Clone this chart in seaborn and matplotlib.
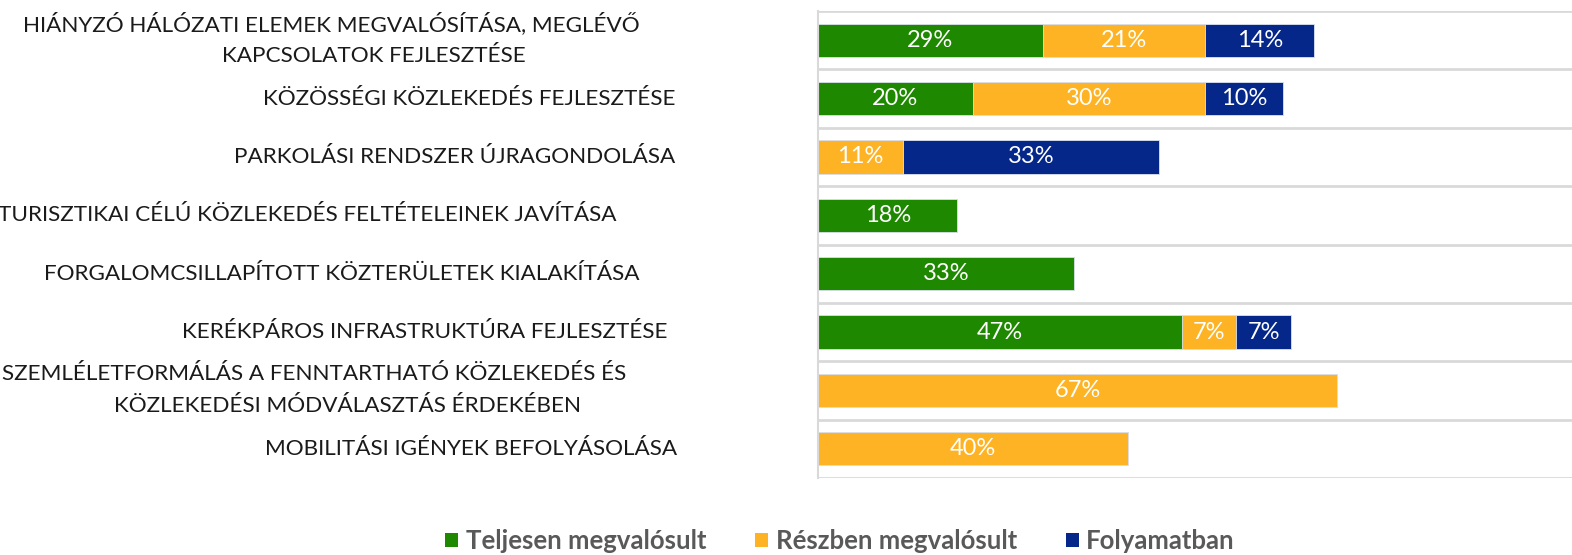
import matplotlib
matplotlib.use("Agg")
import matplotlib.pyplot as plt
import matplotlib.transforms as mtransforms
from matplotlib.patches import Patch
import numpy as np
import pandas as pd
import seaborn as sns

# ---- data ----
categories = [
    "HIÁNYZÓ HÁLÓZATI ELEMEK MEGVALÓSÍTÁSA, MEGLÉVŐ\nKAPCSOLATOK FEJLESZTÉSE",
    "KÖZÖSSÉGI KÖZLEKEDÉS FEJLESZTÉSE",
    "PARKOLÁSI RENDSZER ÚJRAGONDOLÁSA",
    "TURISZTIKAI CÉLÚ KÖZLEKEDÉS FELTÉTELEINEK JAVÍTÁSA",
    "FORGALOMCSILLAPÍTOTT KÖZTERÜLETEK KIALAKÍTÁSA",
    "KERÉKPÁROS INFRASTRUKTÚRA FEJLESZTÉSE",
    "SZEMLÉLETFORMÁLÁS A FENNTARTHATÓ KÖZLEKEDÉS ÉS\nKÖZLEKEDÉSI MÓDVÁLASZTÁS ÉRDEKÉBEN",
    "MOBILITÁSI IGÉNYEK BEFOLYÁSOLÁSA",
]
teljesen = [29, 20, 0, 18, 33, 47, 0, 0]
reszben = [21, 30, 11, 0, 0, 7, 67, 40]
folyamatban = [14, 10, 33, 0, 0, 7, 0, 0]
series_names = ["Teljesen megvalósult", "Részben megvalósult", "Folyamatban"]

# ---- layout / style ----
W, H, DPI = 1572, 555, 100
colors = ["#1E8900", "#FDB324", "#05278A"]
# x-centers (pixels) of each label line
label_centers = [(331, 374), (469,), (455,), (307,), (342,), (425,), (314, 347), (471,)]

sns.set_style("white")
plt.rcParams["font.family"] = ["Lato", "DejaVu Sans"]

fig = plt.figure(figsize=(W / DPI, H / DPI), dpi=DPI)
ax = fig.add_axes([818 / W, 1 - 478 / H, (W - 818) / W, (478 - 11) / H])

df = pd.DataFrame({"cat": categories, "t": teljesen, "r": reszben, "f": folyamatban})
df["c1"] = df["t"]
df["c2"] = df["t"] + df["r"]
df["c3"] = df["t"] + df["r"] + df["f"]

bar_kw = dict(orient="h", width=0.57, edgecolor="#DCE3F0", linewidth=0.6, ax=ax)
sns.barplot(data=df, x="c3", y="cat", color=colors[2], saturation=1, **bar_kw)
sns.barplot(data=df, x="c2", y="cat", color=colors[1], saturation=1, **bar_kw)
sns.barplot(data=df, x="c1", y="cat", color=colors[0], saturation=1, **bar_kw)

# value labels
for i in range(len(categories)):
    left = 0
    for v in (teljesen[i], reszben[i], folyamatban[i]):
        if v > 0:
            ax.text(left + v / 2, i, f"{v}%", ha="center", va="center",
                    color="white", fontsize=17)
        left += v

ax.set_xlim(0, 97.3)
ax.set_ylim(len(categories) - 0.5, -0.5)
for yy in np.arange(-0.5, len(categories), 1.0):
    ax.axhline(yy, color="#D9D9D9", lw=2, zorder=0)
ax.set_xlabel("")
ax.set_ylabel("")
ax.set_xticks([])
ax.set_yticks([])
for s in ["top", "right", "bottom"]:
    ax.spines[s].set_visible(False)
ax.spines["left"].set_color("#D9D9D9")
ax.spines["left"].set_linewidth(1.5)

# category labels
trans = mtransforms.blended_transform_factory(fig.transFigure, ax.transData)
off = 0.275
lab_kw = dict(transform=trans, ha="center", va="center", fontsize=16.2,
              color="#1A1A1A", clip_on=False)
for i, (lab, cx) in enumerate(zip(categories, label_centers)):
    lines = lab.split("\n")
    if len(lines) == 1:
        ax.text(cx[0] / W, i, lines[0], **lab_kw)
    else:
        ax.text(cx[0] / W, i - off, lines[0], **lab_kw)
        ax.text(cx[1] / W, i + off, lines[1], **lab_kw)

handles = [Patch(facecolor=c, edgecolor="none") for c in colors]
fig.legend(handles, series_names, loc="center", bbox_to_anchor=(840 / W, 1 - 541 / H),
           ncol=3, frameon=False, handlelength=0.5, handleheight=0.5, handletextpad=0.3,
           columnspacing=1.9, prop={"size": 18.5, "weight": "bold"}, labelcolor="#595959")

fig.savefig("out.png", dpi=DPI)
